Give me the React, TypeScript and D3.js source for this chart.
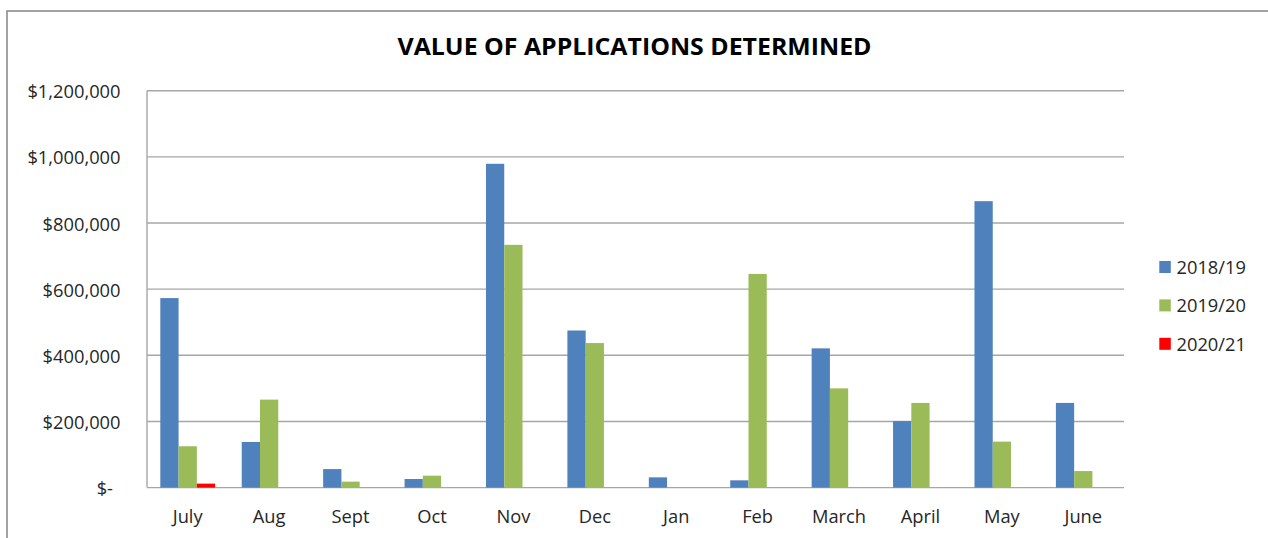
import React from "react";
import * as d3 from "d3";

const months = ["July", "Aug", "Sept", "Oct", "Nov", "Dec", "Jan", "Feb", "March", "April", "May", "June"];
const seriesNames = ["2018/19", "2019/20", "2020/21"];
const values2018 = [573000, 138000, 56000, 26000, 979000, 475000, 31000, 22000, 421000, 201000, 866000, 256000];
const values2019 = [125000, 266000, 18000, 36000, 734000, 437000, 0, 646000, 300000, 256000, 139000, 50000];
const values2020 = [12000, 0, 0, 0, 0, 0, 0, 0, 0, 0, 0, 0];
const seriesColors = ["#4F81BD", "#9BBB59", "#FF0000"];
const yTicks = [0, 200000, 400000, 600000, 800000, 1000000, 1200000];

const W = 1268;
const H = 538;
const plot = { left: 147, right: 1124, top: 90.7, bottom: 487.6 };
const FONT = "'Open Sans', 'Noto Sans', sans-serif";

export default function App() {
  const allSeries = [values2018, values2019, values2020];
  const x = d3
    .scaleBand<string>()
    .domain(months)
    .range([plot.left, plot.right])
    .paddingInner(0.327)
    .paddingOuter(0.1635);
  const xs = d3.scaleBand<string>().domain(seriesNames).range([0, x.bandwidth()]).padding(0);
  const y = d3.scaleLinear().domain([0, 1200000]).range([plot.bottom, plot.top]);
  const fmt = (v: number) => (v === 0 ? "$-" : "$" + d3.format(",")(v));

  return (
    <svg
      width={W}
      height={H}
      style={{ position: "absolute", left: 0, top: 0, background: "#fff" }}
      fontFamily={FONT}
    >
      <rect x={0} y={0} width={W} height={H} fill="#fff" />
      {/* outer chart frame */}
      <rect x={7} y={11} width={W + 20} height={H + 20} fill="none" stroke="#8c8c8c" strokeWidth={1.6} />
      <text
        x={634.5}
        y={55}
        textAnchor="middle"
        fontSize={24}
        fontWeight="bold"
        fill="#000"
        textLength={474}
        lengthAdjust="spacingAndGlyphs"
      >
        VALUE OF APPLICATIONS DETERMINED
      </text>
      {/* gridlines */}
      {yTicks.map((t) => (
        <line
          key={t}
          x1={plot.left}
          x2={plot.right}
          y1={y(t)}
          y2={y(t)}
          stroke="#a6a6a6"
          strokeWidth={1.4}
        />
      ))}
      {/* y axis line */}
      <line x1={plot.left} x2={plot.left} y1={plot.top} y2={plot.bottom} stroke="#a6a6a6" strokeWidth={1.4} />
      {/* y labels */}
      {yTicks.map((t) => (
        <text
          key={"yl" + t}
          x={t === 0 ? 113 : 120.5}
          y={y(t) + 7.5}
          textAnchor="end"
          fontSize={18.3}
          fill="#262626"
        >
          {fmt(t)}
        </text>
      ))}
      {/* bars */}
      {allSeries.map((vals, si) =>
        vals.map((v, i) =>
          v > 0 ? (
            <rect
              key={si + "-" + i}
              x={(x(months[i]) as number) + (xs(seriesNames[si]) as number)}
              y={y(v)}
              width={xs.bandwidth()}
              height={plot.bottom - y(v)}
              fill={seriesColors[si]}
            />
          ) : null
        )
      )}
      {/* x labels */}
      {months.map((m) => (
        <text
          key={"xl" + m}
          x={(x(m) as number) + x.bandwidth() / 2}
          y={522.5}
          textAnchor="middle"
          fontSize={18.3}
          fill="#262626"
        >
          {m}
        </text>
      ))}
      {/* legend */}
      {seriesNames.map((s, i) => {
        const cy = 267 + i * 38.4;
        return (
          <g key={"lg" + s}>
            <rect x={1159.3} y={cy - 6} width={11.5} height={12} fill={seriesColors[i]} />
            <text x={1176.5} y={cy + 6.8} fontSize={18.3} fill="#262626">
              {s}
            </text>
          </g>
        );
      })}
    </svg>
  );
}
